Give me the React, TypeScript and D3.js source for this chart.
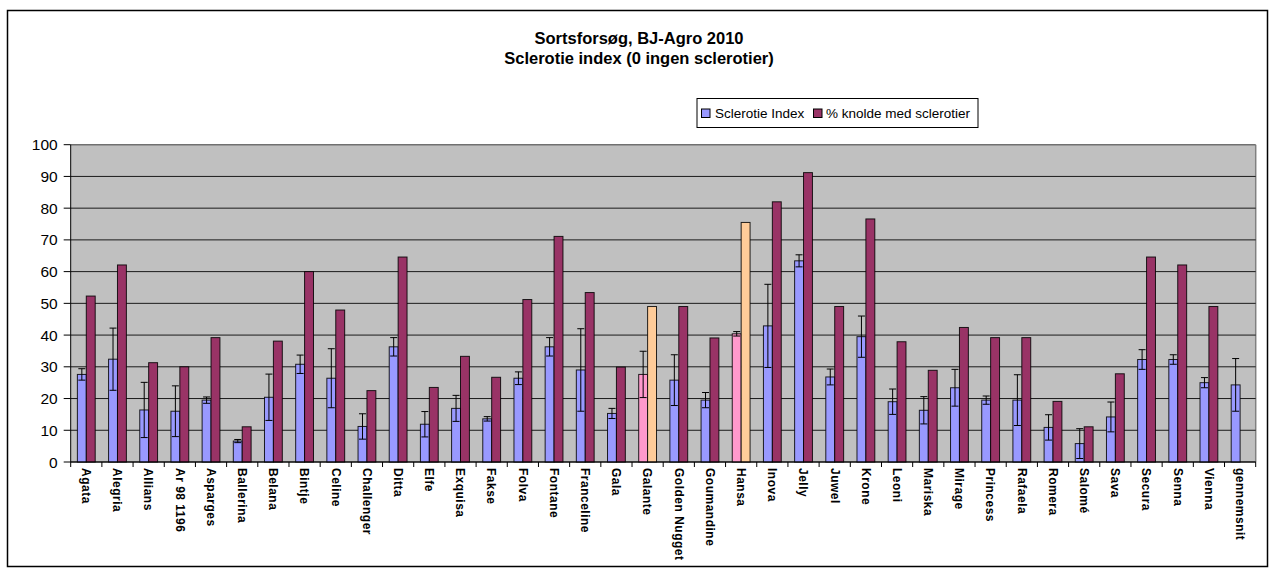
import * as d3 from 'd3';

// Sortsforsøg, BJ-Agro 2010 – sclerotie index per sort
const categories = [
  'Agata', 'Alegria', 'Allians', 'Ar 98 1196', 'Asparges', 'Ballerina', 'Belana', 'Bintje',
  'Celine', 'Challenger', 'Ditta', 'Elfe', 'Exquisa', 'Fakse', 'Folva', 'Fontane',
  'Franceline', 'Gala', 'Galante', 'Golden Nugget', 'Goumandine', 'Hansa', 'Inova', 'Jelly',
  'Juwel', 'Krone', 'Leoni', 'Mariska', 'Mirage', 'Princess', 'Rafaela', 'Romera',
  'Salomé', 'Sava', 'Secura', 'Senna', 'Vienna', 'gennemsnit',
];

const indexValues = [
  27.6, 32.4, 16.4, 16.0, 19.5, 6.6, 20.4, 30.8,
  26.4, 11.2, 36.3, 11.9, 16.9, 13.6, 26.4, 36.3,
  29.0, 15.3, 27.6, 25.8, 19.5, 40.4, 42.9, 63.4,
  26.8, 39.5, 19.0, 16.3, 23.4, 19.5, 19.5, 10.9,
  5.8, 14.2, 32.3, 32.3, 25.0, 24.3,
];

// +/- error on the index bars
const indexErrors = [
  1.8, 9.8, 8.7, 8.0, 1.0, 0.5, 7.3, 2.9,
  9.3, 4.0, 2.9, 4.0, 4.1, 0.7, 2.0, 2.9,
  13.0, 1.6, 7.3, 8.0, 2.4, 0.7, 13.1, 1.9,
  2.5, 6.5, 4.0, 4.3, 5.8, 1.3, 8.0, 4.0,
  4.7, 4.7, 3.1, 1.5, 1.6, 8.3,
];

const percentValues: (number | null)[] = [
  52.3, 62.1, 31.3, 30.0, 39.2, 11.1, 38.1, 60.0,
  47.9, 22.5, 64.6, 23.5, 33.3, 26.7, 51.2, 71.1,
  53.4, 29.9, 49.0, 49.0, 39.1, 75.5, 82.0, 91.2,
  49.0, 76.6, 37.9, 28.9, 42.4, 39.2, 39.2, 19.1,
  11.1, 27.8, 64.6, 62.1, 49.0, null,
];

const highlighted = ['Galante', 'Hansa'];
const seriesNames = ['Sclerotie Index', '% knolde med sclerotier'];
const yTicks = [0, 10, 20, 30, 40, 50, 60, 70, 80, 90, 100];

const W = 1275;
const H = 571;
const plot = { left: 70.7, right: 1255.7, top: 144.7, bottom: 462 };
const font = 'Arial, "Liberation Sans", sans-serif';

const colors = {
  index: '#9999FF',
  pct: '#993366',
  indexHi: '#FF99CC',
  pctHi: '#FFCC99',
  bg: '#C0C0C0',
};

export default function App() {
  const x = d3.scaleBand<string>().domain(categories).range([plot.left, plot.right]).padding(0);
  const inner = d3
    .scaleBand<string>()
    .domain(['idx', 'pct'])
    .range([0, x.bandwidth()])
    .paddingInner(0)
    .paddingOuter(0.75);
  const y = d3.scaleLinear().domain([0, 100]).range([plot.bottom, plot.top]);
  const bw = inner.bandwidth();

  return (
    <svg
      width={W}
      height={H}
      style={{ position: 'absolute', left: 0, top: 0, background: '#fff' }}
      fontFamily={font}
    >
      <rect x={7.5} y={10.5} width={1260} height={556} fill="#fff" stroke="#000" strokeWidth={1.5} />

      {/* title */}
      <text x={639} y={44} textAnchor="middle" fontWeight="bold" fontSize={16.5}>
        Sortsforsøg, BJ-Agro 2010
      </text>
      <text x={639} y={64} textAnchor="middle" fontWeight="bold" fontSize={16.5}>
        Sclerotie index (0 ingen sclerotier)
      </text>

      {/* legend */}
      <rect x={697} y={98.5} width={281} height={29} fill="#fff" stroke="#000" strokeWidth={1} />
      <rect x={701.5} y={109} width={8.5} height={8.5} fill={colors.index} stroke="#000" strokeWidth={1} />
      <text x={715} y={118} fontSize={13.5}>{seriesNames[0]}</text>
      <rect x={813.5} y={109} width={8.5} height={8.5} fill={colors.pct} stroke="#000" strokeWidth={1} />
      <text x={826} y={118} fontSize={13.5}>{seriesNames[1]}</text>

      {/* plot area */}
      <rect
        x={plot.left}
        y={plot.top}
        width={plot.right - plot.left}
        height={plot.bottom - plot.top}
        fill={colors.bg}
      />
      <line x1={plot.right} x2={plot.right} y1={plot.top} y2={plot.bottom} stroke="#808080" strokeWidth={1.5} />
      {yTicks.map((t) => (
        <line
          key={'g' + t}
          x1={plot.left}
          x2={plot.right}
          y1={y(t)}
          y2={y(t)}
          stroke={t === 100 ? '#707070' : '#1a1a1a'}
          strokeWidth={t === 100 ? 1.5 : 1}
        />
      ))}

      {/* bars */}
      {categories.map((c, i) => {
        const x0 = x(c)!;
        const hi = highlighted.includes(c);
        const v = indexValues[i];
        const p = percentValues[i];
        const bx = x0 + inner('idx')!;
        const cx = bx + bw / 2;
        const e = indexErrors[i];
        return (
          <g key={c}>
            <rect
              x={bx}
              y={y(v)}
              width={bw}
              height={y(0) - y(v)}
              fill={hi ? colors.indexHi : colors.index}
              stroke="#000"
              strokeWidth={1}
              strokeOpacity={0.85}
            />
            {p != null && (
              <rect
                x={x0 + inner('pct')!}
                y={y(p)}
                width={bw}
                height={y(0) - y(p)}
                fill={hi ? colors.pctHi : colors.pct}
                stroke="#000"
                strokeWidth={1}
                strokeOpacity={0.85}
              />
            )}
            <g stroke="#000" strokeWidth={1}>
              <line x1={cx} x2={cx} y1={y(v + e)} y2={y(Math.max(0, v - e))} />
              <line x1={cx - 3.5} x2={cx + 3.5} y1={y(v + e)} y2={y(v + e)} />
              <line x1={cx - 3.5} x2={cx + 3.5} y1={y(Math.max(0, v - e))} y2={y(Math.max(0, v - e))} />
            </g>
          </g>
        );
      })}

      {/* y axis */}
      <line x1={plot.left} x2={plot.left} y1={plot.top} y2={plot.bottom} stroke="#000" strokeWidth={1} />
      {yTicks.map((t) => (
        <g key={'y' + t}>
          <line x1={plot.left - 7} x2={plot.left} y1={y(t)} y2={y(t)} stroke="#000" />
          <text x={plot.left - 13} y={y(t)} dy="0.36em" textAnchor="end" fontSize={15.5}>
            {t}
          </text>
        </g>
      ))}

      {/* x axis */}
      <line x1={plot.left} x2={plot.right} y1={plot.bottom} y2={plot.bottom} stroke="#000" strokeWidth={1} />
      {[...categories.map((c) => x(c)!), plot.right].map((bx, i) => (
        <line key={'xt' + i} x1={bx} x2={bx} y1={plot.bottom} y2={plot.bottom + 5} stroke="#000" />
      ))}
      {categories.map((c) => (
        <text
          key={'xl' + c}
          transform={`translate(${x(c)! + x.bandwidth() / 2},${plot.bottom + 6}) rotate(90)`}
          dy="0.35em"
          fontSize={12}
          fontWeight="bold"
          letterSpacing={0.5}
        >
          {c}
        </text>
      ))}
    </svg>
  );
}
